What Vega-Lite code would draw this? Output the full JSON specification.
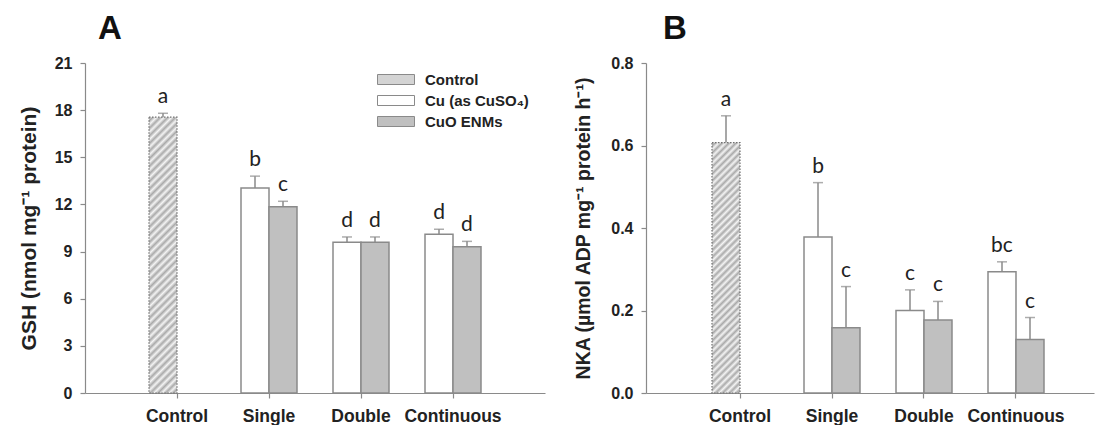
{
  "$schema": "https://vega.github.io/schema/vega-lite/v6.json",
  "background": "white",
  "autosize": {"type": "pad"},
  "padding": {"left": 18, "top": 13, "right": 2, "bottom": 0},
  "bounds": "flush",
  "spacing": 101,
  "config": {
    "view": {"stroke": null},
    "font": "Liberation Sans",
    "axis": {
      "grid": false,
      "domainColor": "#8a8a8a",
      "domainWidth": 1.2,
      "tickColor": "#8a8a8a",
      "tickWidth": 1.2,
      "tickSize": 5,
      "labelFont": "Liberation Sans",
      "labelFontWeight": "bold",
      "labelColor": "#222222",
      "titleFont": "Liberation Sans",
      "titleFontWeight": "bold",
      "titleColor": "#222222"
    }
  },
  "datasets": {
    "gsh": [
      {"exposure": "Control", "treatment": "Control", "value": 17.55, "upper": 17.8, "letter": "a"},
      {"exposure": "Single", "treatment": "Cu (as CuSO₄)", "value": 13.05, "upper": 13.8, "letter": "b"},
      {"exposure": "Single", "treatment": "CuO ENMs", "value": 11.85, "upper": 12.2, "letter": "c"},
      {"exposure": "Double", "treatment": "Cu (as CuSO₄)", "value": 9.6, "upper": 9.93, "letter": "d"},
      {"exposure": "Double", "treatment": "CuO ENMs", "value": 9.6, "upper": 9.93, "letter": "d"},
      {"exposure": "Continuous", "treatment": "Cu (as CuSO₄)", "value": 10.1, "upper": 10.42, "letter": "d"},
      {"exposure": "Continuous", "treatment": "CuO ENMs", "value": 9.3, "upper": 9.65, "letter": "d"}
    ],
    "nka": [
      {"exposure": "Control", "treatment": "Control", "value": 0.607, "upper": 0.672, "letter": "a"},
      {"exposure": "Single", "treatment": "Cu (as CuSO₄)", "value": 0.378, "upper": 0.51, "letter": "b"},
      {"exposure": "Single", "treatment": "CuO ENMs", "value": 0.158, "upper": 0.258, "letter": "c"},
      {"exposure": "Double", "treatment": "Cu (as CuSO₄)", "value": 0.2, "upper": 0.25, "letter": "c"},
      {"exposure": "Double", "treatment": "CuO ENMs", "value": 0.177, "upper": 0.222, "letter": "c"},
      {"exposure": "Continuous", "treatment": "Cu (as CuSO₄)", "value": 0.294, "upper": 0.318, "letter": "bc"},
      {"exposure": "Continuous", "treatment": "CuO ENMs", "value": 0.13, "upper": 0.183, "letter": "c"}
    ]
  },
  "resolve": {
    "scale": {"x": "independent", "y": "independent", "fill": "independent", "xOffset": "independent"},
    "legend": {"fill": "independent"}
  },
  "hconcat": [
    {
      "width": 460,
      "height": 330,
      "title": {"text": "A", "anchor": "start", "frame": "group", "dx": 13, "fontSize": 33, "fontWeight": "bold", "font": "Liberation Sans", "color": "#111111", "baseline": "alphabetic", "offset": -17},
      "data": {"name": "gsh"},
      "encoding": {
        "x": {
          "field": "exposure", "type": "nominal",
          "scale": {"domain": ["Control", "Single", "Double", "Continuous"], "paddingInner": 0, "paddingOuter": 0.5},
          "axis": {"title": null, "labelAngle": 0, "labelFontSize": 17.5, "labelPadding": 9}
        }
      },
      "layer": [
        {
          "transform": [{"filter": "datum.treatment === 'Control'"}],
          "mark": {"type": "bar", "width": 28, "xOffset": -14, "stroke": "#707070", "strokeWidth": 1.2, "strokeDash": [1.5, 1.5],
            "fill": {"gradient": "linear", "x1": 0, "y1": 0, "x2": 0.1106, "y2": 1.0902, "stops": [
              {"offset": 0, "color": "#f4f4f4"}, {"offset": 0.0125, "color": "#aaaaaa"}, {"offset": 0.025, "color": "#f4f4f4"}, {"offset": 0.0375, "color": "#aaaaaa"},
              {"offset": 0.05, "color": "#f4f4f4"}, {"offset": 0.0625, "color": "#aaaaaa"}, {"offset": 0.075, "color": "#f4f4f4"}, {"offset": 0.0875, "color": "#aaaaaa"},
              {"offset": 0.1, "color": "#f4f4f4"}, {"offset": 0.1125, "color": "#aaaaaa"}, {"offset": 0.125, "color": "#f4f4f4"}, {"offset": 0.1375, "color": "#aaaaaa"},
              {"offset": 0.15, "color": "#f4f4f4"}, {"offset": 0.1625, "color": "#aaaaaa"}, {"offset": 0.175, "color": "#f4f4f4"}, {"offset": 0.1875, "color": "#aaaaaa"},
              {"offset": 0.2, "color": "#f4f4f4"}, {"offset": 0.2125, "color": "#aaaaaa"}, {"offset": 0.225, "color": "#f4f4f4"}, {"offset": 0.2375, "color": "#aaaaaa"},
              {"offset": 0.25, "color": "#f4f4f4"}, {"offset": 0.2625, "color": "#aaaaaa"}, {"offset": 0.275, "color": "#f4f4f4"}, {"offset": 0.2875, "color": "#aaaaaa"},
              {"offset": 0.3, "color": "#f4f4f4"}, {"offset": 0.3125, "color": "#aaaaaa"}, {"offset": 0.325, "color": "#f4f4f4"}, {"offset": 0.3375, "color": "#aaaaaa"},
              {"offset": 0.35, "color": "#f4f4f4"}, {"offset": 0.3625, "color": "#aaaaaa"}, {"offset": 0.375, "color": "#f4f4f4"}, {"offset": 0.3875, "color": "#aaaaaa"},
              {"offset": 0.4, "color": "#f4f4f4"}, {"offset": 0.4125, "color": "#aaaaaa"}, {"offset": 0.425, "color": "#f4f4f4"}, {"offset": 0.4375, "color": "#aaaaaa"},
              {"offset": 0.45, "color": "#f4f4f4"}, {"offset": 0.4625, "color": "#aaaaaa"}, {"offset": 0.475, "color": "#f4f4f4"}, {"offset": 0.4875, "color": "#aaaaaa"},
              {"offset": 0.5, "color": "#f4f4f4"}, {"offset": 0.5125, "color": "#aaaaaa"}, {"offset": 0.525, "color": "#f4f4f4"}, {"offset": 0.5375, "color": "#aaaaaa"},
              {"offset": 0.55, "color": "#f4f4f4"}, {"offset": 0.5625, "color": "#aaaaaa"}, {"offset": 0.575, "color": "#f4f4f4"}, {"offset": 0.5875, "color": "#aaaaaa"},
              {"offset": 0.6, "color": "#f4f4f4"}, {"offset": 0.6125, "color": "#aaaaaa"}, {"offset": 0.625, "color": "#f4f4f4"}, {"offset": 0.6375, "color": "#aaaaaa"},
              {"offset": 0.65, "color": "#f4f4f4"}, {"offset": 0.6625, "color": "#aaaaaa"}, {"offset": 0.675, "color": "#f4f4f4"}, {"offset": 0.6875, "color": "#aaaaaa"},
              {"offset": 0.7, "color": "#f4f4f4"}, {"offset": 0.7125, "color": "#aaaaaa"}, {"offset": 0.725, "color": "#f4f4f4"}, {"offset": 0.7375, "color": "#aaaaaa"},
              {"offset": 0.75, "color": "#f4f4f4"}, {"offset": 0.7625, "color": "#aaaaaa"}, {"offset": 0.775, "color": "#f4f4f4"}, {"offset": 0.7875, "color": "#aaaaaa"},
              {"offset": 0.8, "color": "#f4f4f4"}, {"offset": 0.8125, "color": "#aaaaaa"}, {"offset": 0.825, "color": "#f4f4f4"}, {"offset": 0.8375, "color": "#aaaaaa"},
              {"offset": 0.85, "color": "#f4f4f4"}, {"offset": 0.8625, "color": "#aaaaaa"}, {"offset": 0.875, "color": "#f4f4f4"}, {"offset": 0.8875, "color": "#aaaaaa"},
              {"offset": 0.9, "color": "#f4f4f4"}, {"offset": 0.9125, "color": "#aaaaaa"}, {"offset": 0.925, "color": "#f4f4f4"}, {"offset": 0.9375, "color": "#aaaaaa"},
              {"offset": 0.95, "color": "#f4f4f4"}, {"offset": 0.9625, "color": "#aaaaaa"}, {"offset": 0.975, "color": "#f4f4f4"}, {"offset": 0.9875, "color": "#aaaaaa"},
              {"offset": 1, "color": "#f4f4f4"}
            ]}
          },
          "encoding": {
            "y": {"field": "value", "type": "quantitative", "title": "GSH (nmol mg⁻¹ protein)",
              "scale": {"domain": [0, 21], "nice": false, "zero": true},
              "axis": {"values": [0, 3, 6, 9, 12, 15, 18, 21], "labelFontSize": 16, "labelPadding": 8, "titleFontSize": 21, "titlePadding": 15}}
          }
        },
        {
          "transform": [{"filter": "datum.treatment !== 'Control'"}],
          "mark": {"type": "bar", "stroke": "#8a8a8a", "strokeWidth": 1.5},
          "encoding": {
            "y": {"field": "value", "type": "quantitative", "title": "GSH (nmol mg⁻¹ protein)"},
            "xOffset": {"field": "treatment", "type": "nominal", "scale": {"domain": ["Cu (as CuSO₄)", "CuO ENMs"], "paddingInner": 0, "paddingOuter": 0.643}},
            "fill": {
              "field": "treatment", "type": "nominal",
              "scale": {"domain": ["Control", "Cu (as CuSO₄)", "CuO ENMs"], "range": ["#d4d4d4", "#ffffff", "#c0c0c0"]},
              "legend": {
                "orient": "none", "legendX": 303.5, "legendY": 9, "title": null, "padding": 0,
                "symbolType": "M-3.7,-1H3.7V1H-3.7Z", "symbolSize": 100,
                "symbolStrokeColor": "#8a8a8a", "symbolStrokeWidth": 1,
                "labelFont": "Liberation Sans", "labelFontSize": 15, "labelFontWeight": "bold", "labelColor": "#222222",
                "labelOffset": 21.5, "rowPadding": 5,
                "encode": {"symbols": {
                  "enter": {"stroke": {"value": "#8a8a8a"}, "strokeWidth": {"value": 1}},
                  "update": {"stroke": {"value": "#8a8a8a"}, "strokeWidth": {"value": 1}, "opacity": {"value": 1}}}}
              }
            }
          }
        },
        {
          "transform": [{"filter": "datum.treatment === 'Control'"}],
          "mark": {"type": "rule", "xOffset": -14, "color": "#8a8a8a", "strokeWidth": 1.5},
          "encoding": {
            "y": {"field": "value", "type": "quantitative", "title": "GSH (nmol mg⁻¹ protein)"},
            "y2": {"field": "upper"}
          }
        },
        {
          "transform": [{"filter": "datum.treatment === 'Control'"}],
          "mark": {"type": "tick", "xOffset": -14, "color": "#8a8a8a", "thickness": 1.5, "size": 10},
          "encoding": {"y": {"field": "upper", "type": "quantitative", "title": "GSH (nmol mg⁻¹ protein)"}}
        },
        {
          "transform": [{"filter": "datum.treatment === 'Control'"}],
          "mark": {"type": "text", "xOffset": -14, "dy": -10, "baseline": "alphabetic", "font": "Lato", "fontSize": 21, "color": "#222222"},
          "encoding": {
            "y": {"field": "upper", "type": "quantitative", "title": "GSH (nmol mg⁻¹ protein)"},
            "text": {"field": "letter"}
          }
        },
        {
          "transform": [{"filter": "datum.treatment !== 'Control'"}],
          "mark": {"type": "rule", "color": "#8a8a8a", "strokeWidth": 1.5},
          "encoding": {
            "xOffset": {"field": "treatment", "type": "nominal"},
            "y": {"field": "value", "type": "quantitative", "title": "GSH (nmol mg⁻¹ protein)"},
            "y2": {"field": "upper"}
          }
        },
        {
          "transform": [{"filter": "datum.treatment !== 'Control'"}],
          "mark": {"type": "tick", "color": "#8a8a8a", "thickness": 1.5, "size": 10},
          "encoding": {
            "xOffset": {"field": "treatment", "type": "nominal"},
            "y": {"field": "upper", "type": "quantitative", "title": "GSH (nmol mg⁻¹ protein)"}
          }
        },
        {
          "transform": [{"filter": "datum.treatment !== 'Control'"}],
          "mark": {"type": "text", "dy": -10, "baseline": "alphabetic", "font": "Lato", "fontSize": 21, "color": "#222222"},
          "encoding": {
            "xOffset": {"field": "treatment", "type": "nominal"},
            "y": {"field": "upper", "type": "quantitative", "title": "GSH (nmol mg⁻¹ protein)"},
            "text": {"field": "letter"}
          }
        }
      ]
    },
    {
      "width": 448,
      "height": 330,
      "title": {"text": "B", "anchor": "start", "frame": "group", "dx": 17, "fontSize": 33, "fontWeight": "bold", "font": "Liberation Sans", "color": "#111111", "baseline": "alphabetic", "offset": -17},
      "data": {"name": "nka"},
      "encoding": {
        "x": {
          "field": "exposure", "type": "nominal",
          "scale": {"domain": ["Control", "Single", "Double", "Continuous"], "paddingInner": 0, "paddingOuter": 0.4348, "align": 0.6},
          "axis": {"title": null, "labelAngle": 0, "labelFontSize": 17.5, "labelPadding": 9}
        }
      },
      "layer": [
        {
          "transform": [{"filter": "datum.treatment === 'Control'"}],
          "mark": {"type": "bar", "width": 28, "xOffset": -14, "stroke": "#707070", "strokeWidth": 1.2, "strokeDash": [1.5, 1.5],
            "fill": {"gradient": "linear", "x1": 0, "y1": 0, "x2": 0.1225, "y2": 1.098, "stops": [
              {"offset": 0, "color": "#f4f4f4"}, {"offset": 0.0125, "color": "#aaaaaa"}, {"offset": 0.025, "color": "#f4f4f4"}, {"offset": 0.0375, "color": "#aaaaaa"},
              {"offset": 0.05, "color": "#f4f4f4"}, {"offset": 0.0625, "color": "#aaaaaa"}, {"offset": 0.075, "color": "#f4f4f4"}, {"offset": 0.0875, "color": "#aaaaaa"},
              {"offset": 0.1, "color": "#f4f4f4"}, {"offset": 0.1125, "color": "#aaaaaa"}, {"offset": 0.125, "color": "#f4f4f4"}, {"offset": 0.1375, "color": "#aaaaaa"},
              {"offset": 0.15, "color": "#f4f4f4"}, {"offset": 0.1625, "color": "#aaaaaa"}, {"offset": 0.175, "color": "#f4f4f4"}, {"offset": 0.1875, "color": "#aaaaaa"},
              {"offset": 0.2, "color": "#f4f4f4"}, {"offset": 0.2125, "color": "#aaaaaa"}, {"offset": 0.225, "color": "#f4f4f4"}, {"offset": 0.2375, "color": "#aaaaaa"},
              {"offset": 0.25, "color": "#f4f4f4"}, {"offset": 0.2625, "color": "#aaaaaa"}, {"offset": 0.275, "color": "#f4f4f4"}, {"offset": 0.2875, "color": "#aaaaaa"},
              {"offset": 0.3, "color": "#f4f4f4"}, {"offset": 0.3125, "color": "#aaaaaa"}, {"offset": 0.325, "color": "#f4f4f4"}, {"offset": 0.3375, "color": "#aaaaaa"},
              {"offset": 0.35, "color": "#f4f4f4"}, {"offset": 0.3625, "color": "#aaaaaa"}, {"offset": 0.375, "color": "#f4f4f4"}, {"offset": 0.3875, "color": "#aaaaaa"},
              {"offset": 0.4, "color": "#f4f4f4"}, {"offset": 0.4125, "color": "#aaaaaa"}, {"offset": 0.425, "color": "#f4f4f4"}, {"offset": 0.4375, "color": "#aaaaaa"},
              {"offset": 0.45, "color": "#f4f4f4"}, {"offset": 0.4625, "color": "#aaaaaa"}, {"offset": 0.475, "color": "#f4f4f4"}, {"offset": 0.4875, "color": "#aaaaaa"},
              {"offset": 0.5, "color": "#f4f4f4"}, {"offset": 0.5125, "color": "#aaaaaa"}, {"offset": 0.525, "color": "#f4f4f4"}, {"offset": 0.5375, "color": "#aaaaaa"},
              {"offset": 0.55, "color": "#f4f4f4"}, {"offset": 0.5625, "color": "#aaaaaa"}, {"offset": 0.575, "color": "#f4f4f4"}, {"offset": 0.5875, "color": "#aaaaaa"},
              {"offset": 0.6, "color": "#f4f4f4"}, {"offset": 0.6125, "color": "#aaaaaa"}, {"offset": 0.625, "color": "#f4f4f4"}, {"offset": 0.6375, "color": "#aaaaaa"},
              {"offset": 0.65, "color": "#f4f4f4"}, {"offset": 0.6625, "color": "#aaaaaa"}, {"offset": 0.675, "color": "#f4f4f4"}, {"offset": 0.6875, "color": "#aaaaaa"},
              {"offset": 0.7, "color": "#f4f4f4"}, {"offset": 0.7125, "color": "#aaaaaa"}, {"offset": 0.725, "color": "#f4f4f4"}, {"offset": 0.7375, "color": "#aaaaaa"},
              {"offset": 0.75, "color": "#f4f4f4"}, {"offset": 0.7625, "color": "#aaaaaa"}, {"offset": 0.775, "color": "#f4f4f4"}, {"offset": 0.7875, "color": "#aaaaaa"},
              {"offset": 0.8, "color": "#f4f4f4"}, {"offset": 0.8125, "color": "#aaaaaa"}, {"offset": 0.825, "color": "#f4f4f4"}, {"offset": 0.8375, "color": "#aaaaaa"},
              {"offset": 0.85, "color": "#f4f4f4"}, {"offset": 0.8625, "color": "#aaaaaa"}, {"offset": 0.875, "color": "#f4f4f4"}, {"offset": 0.8875, "color": "#aaaaaa"},
              {"offset": 0.9, "color": "#f4f4f4"}, {"offset": 0.9125, "color": "#aaaaaa"}, {"offset": 0.925, "color": "#f4f4f4"}, {"offset": 0.9375, "color": "#aaaaaa"},
              {"offset": 0.95, "color": "#f4f4f4"}, {"offset": 0.9625, "color": "#aaaaaa"}, {"offset": 0.975, "color": "#f4f4f4"}, {"offset": 0.9875, "color": "#aaaaaa"},
              {"offset": 1, "color": "#f4f4f4"}
            ]}
          },
          "encoding": {
            "y": {"field": "value", "type": "quantitative", "title": "NKA (µmol ADP mg⁻¹ protein h⁻¹)",
              "scale": {"domain": [0, 0.8], "nice": false, "zero": true},
              "axis": {"values": [0, 0.2, 0.4, 0.6, 0.8], "format": ".1f", "labelFontSize": 16, "labelPadding": 8, "titleFontSize": 19.5, "titlePadding": 17}}
          }
        },
        {
          "transform": [{"filter": "datum.treatment !== 'Control'"}],
          "mark": {"type": "bar", "stroke": "#8a8a8a", "strokeWidth": 1.5},
          "encoding": {
            "y": {"field": "value", "type": "quantitative", "title": "NKA (µmol ADP mg⁻¹ protein h⁻¹)"},
            "xOffset": {"field": "treatment", "type": "nominal", "scale": {"domain": ["Cu (as CuSO₄)", "CuO ENMs"], "paddingInner": 0, "paddingOuter": 0.643}},
            "fill": {
              "field": "treatment", "type": "nominal",
              "scale": {"domain": ["Control", "Cu (as CuSO₄)", "CuO ENMs"], "range": ["#d4d4d4", "#ffffff", "#c0c0c0"]},
              "legend": null
            }
          }
        },
        {
          "transform": [{"filter": "datum.treatment === 'Control'"}],
          "mark": {"type": "rule", "xOffset": -14, "color": "#8a8a8a", "strokeWidth": 1.5},
          "encoding": {
            "y": {"field": "value", "type": "quantitative", "title": "NKA (µmol ADP mg⁻¹ protein h⁻¹)"},
            "y2": {"field": "upper"}
          }
        },
        {
          "transform": [{"filter": "datum.treatment === 'Control'"}],
          "mark": {"type": "tick", "xOffset": -14, "color": "#8a8a8a", "thickness": 1.5, "size": 10},
          "encoding": {"y": {"field": "upper", "type": "quantitative", "title": "NKA (µmol ADP mg⁻¹ protein h⁻¹)"}}
        },
        {
          "transform": [{"filter": "datum.treatment === 'Control'"}],
          "mark": {"type": "text", "xOffset": -14, "dy": -10, "baseline": "alphabetic", "font": "Lato", "fontSize": 21, "color": "#222222"},
          "encoding": {
            "y": {"field": "upper", "type": "quantitative", "title": "NKA (µmol ADP mg⁻¹ protein h⁻¹)"},
            "text": {"field": "letter"}
          }
        },
        {
          "transform": [{"filter": "datum.treatment !== 'Control'"}],
          "mark": {"type": "rule", "color": "#8a8a8a", "strokeWidth": 1.5},
          "encoding": {
            "xOffset": {"field": "treatment", "type": "nominal"},
            "y": {"field": "value", "type": "quantitative", "title": "NKA (µmol ADP mg⁻¹ protein h⁻¹)"},
            "y2": {"field": "upper"}
          }
        },
        {
          "transform": [{"filter": "datum.treatment !== 'Control'"}],
          "mark": {"type": "tick", "color": "#8a8a8a", "thickness": 1.5, "size": 10},
          "encoding": {
            "xOffset": {"field": "treatment", "type": "nominal"},
            "y": {"field": "upper", "type": "quantitative", "title": "NKA (µmol ADP mg⁻¹ protein h⁻¹)"}
          }
        },
        {
          "transform": [{"filter": "datum.treatment !== 'Control'"}],
          "mark": {"type": "text", "dy": -10, "baseline": "alphabetic", "font": "Lato", "fontSize": 21, "color": "#222222"},
          "encoding": {
            "xOffset": {"field": "treatment", "type": "nominal"},
            "y": {"field": "upper", "type": "quantitative", "title": "NKA (µmol ADP mg⁻¹ protein h⁻¹)"},
            "text": {"field": "letter"}
          }
        }
      ]
    }
  ]
}
